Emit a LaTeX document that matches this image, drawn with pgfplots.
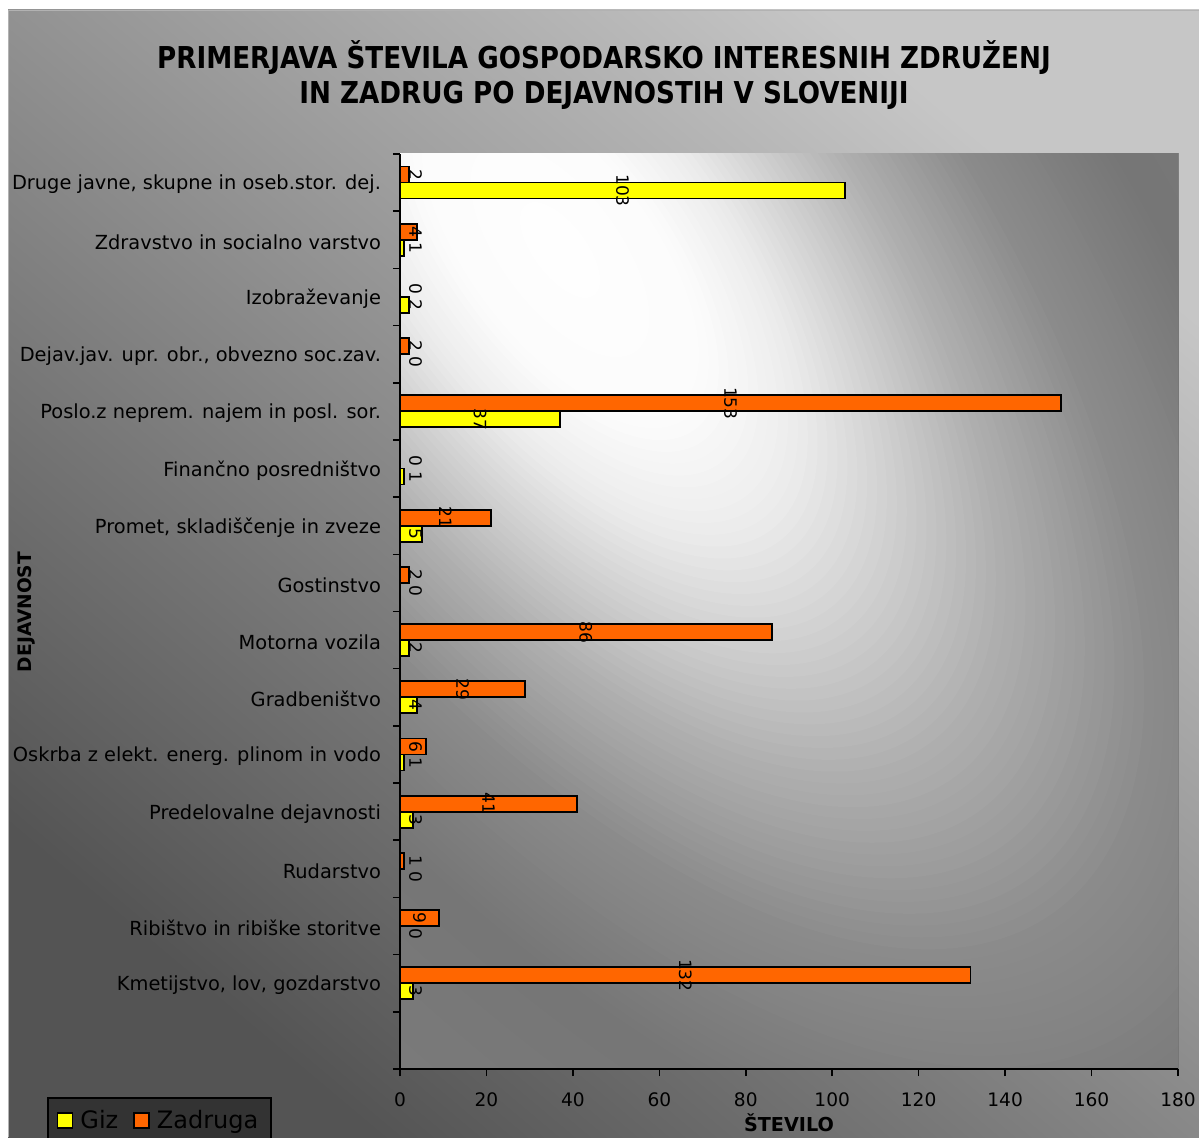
\documentclass[border=0pt]{standalone}
\usepackage{fontspec}
\setmainfont{DejaVu Sans}
\usepackage{pgfplots}
\pgfplotsset{compat=1.18}
\definecolor{giz}{RGB}{255,255,0}
\definecolor{zad}{RGB}{255,102,0}
\definecolor{legbg}{RGB}{51,51,51}
\definecolor{outlight}{RGB}{198,198,198}
\definecolor{outdark}{RGB}{84,84,84}
\definecolor{pabase}{RGB}{122,122,122}

\begin{document}
\begin{tikzpicture}[x=0.5pt,y=0.5pt]
\useasboundingbox (0,0) rectangle (1199,1137);
\clip (0,0) rectangle (1199,1137);
\fill[white] (0,0) rectangle (1199,1137);
\shade[top color=outlight, bottom color=outdark, shading angle=-40] (8,0) rectangle (1199,1127);
\draw[gray!60, line width=0.8pt] (8.5,0) -- (8.5,1126.5) -- (1199,1126.5);

% plot area background: light spot near the upper left, stretched towards the lower right
\begin{scope}
  \clip (400,68) rectangle (1178,983);
  \fill[pabase] (400,68) rectangle (1178,983);
  \foreach \t in {1,0.99,...,0.01} {
    \pgfmathtruncatemacro\lv{\t>=0.8 ? 118+(\t-0.8)/0.2*4 :
      (\t>=0.6 ? 140-(\t-0.6)/0.2*22 :
      (\t>=0.45 ? 175-(\t-0.45)/0.15*35 :
      (\t>=0.35 ? 205-(\t-0.35)/0.1*30 :
      (\t>=0.25 ? 235-(\t-0.25)/0.1*30 :
      (\t>=0.15 ? 252-(\t-0.15)/0.1*17 : 255-\t/0.15*3)))))}
    \definecolor{ring}{RGB}{\lv,\lv,\lv}
    \fill[ring, shift={(560,887)}, rotate=-53] (0,0) ellipse [x radius={1400*\t}, y radius={650*\t}];
  }
\end{scope}

\node[font=\bfseries\fontsize{13.1}{15}\selectfont, align=center, yscale=1.15] at (604,1062)
  {PRIMERJAVA ŠTEVILA GOSPODARSKO INTERESNIH ZDRUŽENJ\\IN ZADRUG PO DEJAVNOSTIH V SLOVENIJI};
\node[rotate=90, font=\bfseries\fontsize{9.3}{11}\selectfont] at (26,525) {DEJAVNOST};
\node[font=\bfseries\fontsize{9.6}{11}\selectfont] at (789,14) {ŠTEVILO};

\begin{axis}[
  at={(200pt,34pt)}, anchor=south west,
  scale only axis, width=389pt, height=457.5pt,
  xmin=0, xmax=180, ymin=-0.5, ymax=15.5,
  xbar, bar width=8pt,
  axis lines*=left,
  axis line style={black, line width=0.8pt},
  tick align=outside,
  major tick length=3.5pt, minor tick length=3.5pt,
  every tick/.style={black, line width=0.8pt},
  xtick={0,20,...,180},
  ytick={-0.5,0.5,...,15.5}, yticklabels={},
  extra y ticks={1,2,...,15},
  extra y tick style={major tick length=0pt},
  extra y tick labels={
    {Kmetijstvo, lov, gozdarstvo},
    {Ribištvo in ribiške storitve},
    {Rudarstvo},
    {Predelovalne dejavnosti},
    {Oskrba z elekt. energ. plinom in vodo},
    {Gradbeništvo},
    {Motorna vozila},
    {Gostinstvo},
    {Promet, skladiščenje in zveze},
    {Finančno posredništvo},
    {Poslo.z neprem. najem in posl. sor.},
    {Dejav.jav. upr. obr., obvezno soc.zav.},
    {Izobraževanje},
    {Zdravstvo in socialno varstvo},
    {Druge javne, skupne in oseb.stor. dej.}},
  yticklabel style={font=\fontsize{9.7}{11}\selectfont, xshift=-6pt, yshift=-1pt},
  xticklabel style={font=\fontsize{9.3}{11}\selectfont, yshift=-5pt},
  /pgf/number format/assume math mode=true,
  point meta=x,
  nodes near coords,
  visualization depends on={x \as \rawx},
  legend style={at={(axis description cs:-0.4537,-0.0306)}, anchor=north west,
    fill=legbg, draw=black, line width=0.8pt,
    font=\fontsize{12}{14}\selectfont, legend columns=2,
    /tikz/every odd column/.append style={column sep=1.5pt},
    /tikz/every even column/.append style={column sep=5.5pt},
    inner xsep=4.5pt, inner ysep=4pt},
  legend cell align=left,
]
\addlegendimage{legend image code/.code={\draw[fill=giz, draw=black, line width=0.8pt] (0pt,-3.75pt) rectangle (7.5pt,3.75pt);}}
\addlegendentry{Giz}
\addlegendimage{legend image code/.code={\draw[fill=zad, draw=black, line width=0.8pt] (0pt,-3.75pt) rectangle (7.5pt,3.75pt);}}
\addlegendentry{Zadruga}

% Zadruga (orange, upper bar of each pair)
\addplot[forget plot, fill=zad, draw=black, line width=0.9pt, bar shift=4pt,
  every node near coord/.append style={shift={(axis direction cs:{max(\rawx/2,3.6)-\rawx},0)},
    rotate=-90, anchor=center, inner sep=0pt, black, font=\fontsize{8.5}{10}\selectfont}]
  coordinates {
  (132,1) (9,2) (1,3) (41,4) (6,5) (29,6) (86,7) (2,8)
  (21,9) (0,10) (153,11) (2,12) (0,13) (4,14) (2,15)};

% Giz (yellow, lower bar)
\addplot[forget plot, fill=giz, draw=black, line width=0.9pt, bar shift=-4pt,
  every node near coord/.append style={shift={(axis direction cs:{max(\rawx/2,3.6)-\rawx},0)},
    rotate=-90, anchor=center, inner sep=0pt, black, font=\fontsize{8.5}{10}\selectfont}]
  coordinates {
  (3,1) (0,2) (0,3) (3,4) (1,5) (4,6) (2,7) (0,8)
  (5,9) (1,10) (37,11) (0,12) (2,13) (1,14) (103,15)};
\end{axis}
\end{tikzpicture}
\end{document}
